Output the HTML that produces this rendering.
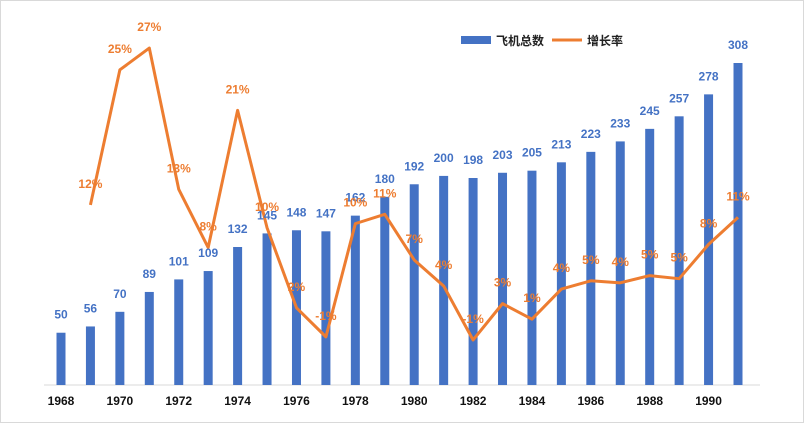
<!DOCTYPE html>
<html><head><meta charset="utf-8"><style>
body{margin:0;background:#fff;}
svg{display:block;font-family:"Liberation Sans","Noto Sans CJK SC",sans-serif;}
</style></head><body>
<svg id="c" width="804" height="423">
<rect x="0.5" y="0.5" width="803" height="422" fill="#fff" stroke="#d9d9d9"/>
<line x1="44" y1="385" x2="760" y2="385" stroke="#d9d9d9"/>
<g>
<rect x="461" y="36" width="30" height="8" fill="#4472C4"/>
<text x="496" y="45" font-size="12" font-weight="bold" fill="#222">飞机总数</text>
<line x1="552" y1="40" x2="582" y2="40" stroke="#ED7D31" stroke-width="3"/>
<text x="587" y="45" font-size="12" font-weight="bold" fill="#222">增长率</text>
</g>
<g id="bars"></g><g id="line"></g><g id="labels"></g><g id="xt"></g>
</svg>
<script>
const years=[1968,1969,1970,1971,1972,1973,1974,1975,1976,1977,1978,1979,1980,1981,1982,1983,1984,1985,1986,1987,1988,1989,1990,1991];
const totals=[50,56,70,89,101,109,132,145,148,147,162,180,192,200,198,203,205,213,223,233,245,257,278,308];
const growthYears=[1969,1970,1971,1972,1973,1974,1975,1976,1977,1978,1979,1980,1981,1982,1983,1984,1985,1986,1987,1988,1989,1990,1991];
const growth=[12,25,27.1,13.5,7.9,21.1,9.8,2.1,-0.7,10.2,11.1,6.7,4.2,-1,2.5,1,3.9,4.7,4.5,5.2,4.9,8.2,10.8];
const growthLabels=["12%","25%","27%","13%","8%","21%","10%","2%","-1%","10%","11%","7%","4%","-1%","3%","1%","4%","5%","4%","5%","5%","8%","11%"];
const xTicks=[1968,1970,1972,1974,1976,1978,1980,1982,1984,1986,1988,1990];
const NS="http://www.w3.org/2000/svg";
const x=y=>61+(y-1968)*(738-61)/23;
const yb=v=>385-v*322/308;
const yl=v=>329.6-v*10.39;
function mk(t,a,p){const e=document.createElementNS(NS,t);for(const k in a)e.setAttribute(k,a[k]);document.getElementById(p).appendChild(e);return e;}
years.forEach((yr,i)=>{
 const r=mk('rect',{x:x(yr)-4.5,y:yb(totals[i]),width:9,height:385-yb(totals[i]),fill:'#4472C4'},'bars');
 
 
 const t=mk('text',{x:x(yr),y:yb(totals[i])-14,'text-anchor':'middle','font-size':12,'font-weight':'bold',fill:'#4472C4'},'labels');
 t.textContent=totals[i];
 
 
});
const pts=growthYears.map((yr,i)=>x(yr)+','+yl(growth[i])).join(' ');
const pl=mk('polyline',{points:pts,fill:'none',stroke:'#ED7D31','stroke-width':3,'stroke-linejoin':'round'},'line');


growthYears.forEach((yr,i)=>{
 const t=mk('text',{x:x(yr),y:yl(growth[i])-17,'text-anchor':'middle','font-size':12,'font-weight':'bold',fill:'#ED7D31'},'labels');
 t.textContent=growthLabels[i];
 
 
});
xTicks.forEach(yr=>{
 const t=mk('text',{x:x(yr),y:405,'text-anchor':'middle','font-size':12,'font-weight':'bold',fill:'#111'},'xt');
 t.textContent=yr;
 
 
});
</script>
</body></html>
